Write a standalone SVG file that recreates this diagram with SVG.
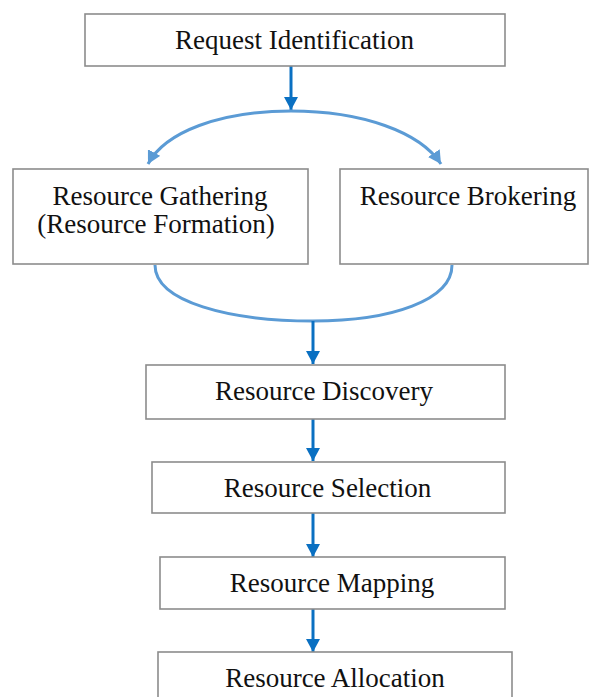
<svg xmlns="http://www.w3.org/2000/svg" width="589" height="697" viewBox="0 0 589 697">
<defs>
<style>
.box{fill:#fff;stroke:#8c8c8c;stroke-width:1.6}
.t{font-family:'Liberation Serif','Tinos','DejaVu Serif',serif;font-size:27px;fill:#111;text-anchor:middle}
.dk{fill:none;stroke:#0a70c2;stroke-width:3}
.lt{fill:none;stroke:#5b9bd5;stroke-width:3}
</style>
<marker id="ad" markerUnits="userSpaceOnUse" markerWidth="14" markerHeight="14" refX="13" refY="7" orient="auto" viewBox="0 0 14 14"><path d="M0,0 L13,7 L0,14 z" fill="#0a70c2"/></marker>
<marker id="al" markerUnits="userSpaceOnUse" markerWidth="14" markerHeight="14" refX="13" refY="7" orient="auto" viewBox="0 0 14 14"><path d="M0,0 L13,7 L0,14 z" fill="#5b9bd5"/></marker>
</defs>
<rect width="589" height="697" fill="#fff"/>
<g id="connectors">
<path class="dk" d="M291,66 L291,110" marker-end="url(#ad)"/>
<path class="lt" d="M291,111 C220,111 165,132 148,164" marker-end="url(#al)"/>
<path class="lt" d="M291,111 C362,111 420,132 441,164" marker-end="url(#al)"/>
<path class="lt" d="M155,265 C155,302 230,321 313,321 C392,321 452,300 452,265"/>
<path class="dk" d="M313,321 L313,364" marker-end="url(#ad)"/>
<path class="dk" d="M313,419 L313,461" marker-end="url(#ad)"/>
<path class="dk" d="M313,513 L313,557" marker-end="url(#ad)"/>
<path class="dk" d="M313,609 L313,652" marker-end="url(#ad)"/>
</g>
<g id="n-request"><rect class="box" x="85" y="14" width="420" height="52"/><text class="t" x="294.5" y="49">Request Identification</text></g>
<g id="n-gathering"><rect class="box" x="13" y="169" width="295" height="95"/><text class="t" x="160" y="205">Resource Gathering</text><text class="t" x="156" y="233">(Resource Formation)</text></g>
<g id="n-brokering"><rect class="box" x="340" y="169" width="248" height="95"/><text class="t" x="468" y="205">Resource Brokering</text></g>
<g id="n-discovery"><rect class="box" x="146" y="365" width="359" height="54"/><text class="t" x="324" y="400">Resource Discovery</text></g>
<g id="n-selection"><rect class="box" x="152" y="462" width="353" height="51"/><text class="t" x="327.5" y="497">Resource Selection</text></g>
<g id="n-mapping"><rect class="box" x="160" y="557" width="345" height="52"/><text class="t" x="332" y="592">Resource Mapping</text></g>
<g id="n-allocation"><rect class="box" x="158" y="652" width="354" height="60"/><text class="t" x="335" y="687">Resource Allocation</text></g>
</svg>
